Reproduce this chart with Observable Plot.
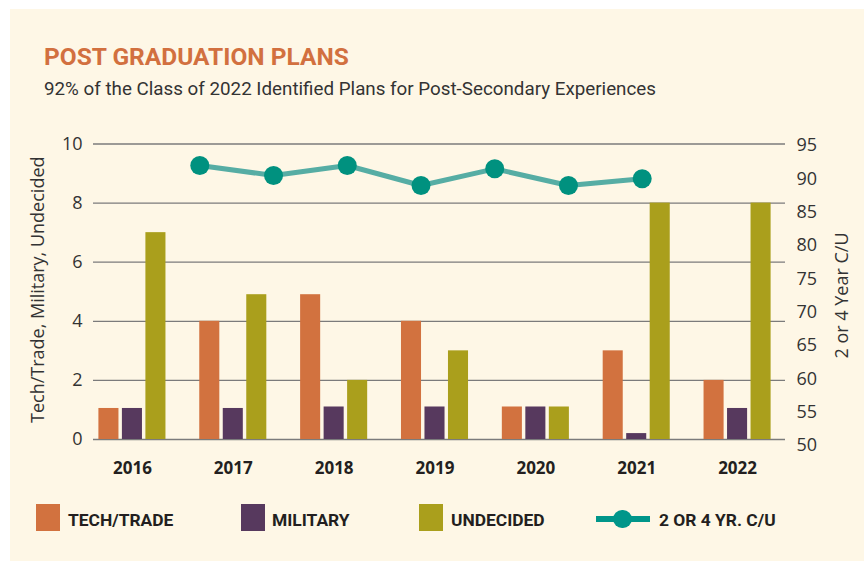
<!DOCTYPE html>
<html>
<head>
<meta charset="utf-8">
<script src="https://cdn.jsdelivr.net/npm/d3@7"></script>
<script src="https://cdn.jsdelivr.net/npm/@observablehq/plot@0.6"></script>
<style>
  html, body { margin: 0; padding: 0; background: #ffffff; }
  body { width: 865px; height: 561px; position: relative; overflow: hidden; }
  #bg { position: absolute; left: 10px; top: 9px; width: 854px; height: 552px; background: #FEF7E6; }
  .abs { position: absolute; white-space: nowrap; line-height: 1; }
  #title { left: 44px; top: 44.5px; font-family: Roboto, sans-serif; font-weight: 700; font-size: 24.5px; color: #D2703F; }
  #subtitle { left: 44px; top: 79.5px; font-family: Roboto, sans-serif; font-size: 18.8px; color: #333; }
  .plot { position: absolute; left: 0; top: 120px; }
  .sw { position: absolute; width: 24px; height: 27px; top: 504px; }
  .lt { position: absolute; top: 511.8px; font-family: Roboto, sans-serif; font-weight: 700; font-size: 17.4px; color: #231f20; line-height: 1; white-space: nowrap; }
</style>
</head>
<body>
<div id="bg"></div>
<div id="title" class="abs">POST GRADUATION PLANS</div>
<div id="subtitle" class="abs">92% of the Class of 2022 Identified Plans for Post-Secondary Experiences</div>
<div id="chart"></div>
<div id="legend"></div>
<script>
// ---- data ----
const years = ["2016", "2017", "2018", "2019", "2020", "2021", "2022"];
const techTrade = [1.05, 4, 4.9, 4, 1.1, 3, 2];
const military = [1.05, 1.05, 1.1, 1.1, 1.1, 0.2, 1.05];
const undecided = [7, 4.9, 2, 3, 1.1, 8, 8];
const college = [92, 90.5, 92, 89, 91.5, 89, 90];
const leftTicks = [0, 2, 4, 6, 8, 10];
const rightTicks = [50, 55, 60, 65, 70, 75, 80, 85, 90, 95];
const seriesNames = ["TECH/TRADE", "MILITARY", "UNDECIDED", "2 OR 4 YR. C/U"];
const leftLabel = "Tech/Trade, Military, Undecided";
const rightLabel = "2 or 4 Year C/U";

const TECH = "#D2723F", MIL = "#57395E", UND = "#AA9F1C", LINE = "#56ADA4", DOT = "#00917F";

const rows = years.map((y, i) => ({year: y, tech: techTrade[i], mil: military[i], und: undecided[i], col: college[i]}));

const common = {
  width: 865, height: 360,
  marginLeft: 93, marginRight: 80,
  style: {background: "transparent", fontFamily: "'Open Sans', sans-serif", color: "#333", overflow: "visible"}
};

const inset = 40.4;
const main = Plot.plot({
  ...common,
  marginTop: 23.5, marginBottom: 41,
  x: {type: "band", domain: years, range: [81.5, 787.5], padding: 0, round: false, axis: null},
  y: {domain: [0, 10], axis: null},
  marks: [
    Plot.ruleY(leftTicks, {stroke: "#7b7b7b", strokeWidth: 1.3}),
    Plot.barY(rows, {x: "year", y: "tech", fill: TECH, dx: -23.5, insetLeft: inset, insetRight: inset}),
    Plot.barY(rows, {x: "year", y: "mil", fill: MIL, dx: 0, insetLeft: inset, insetRight: inset}),
    Plot.barY(rows, {x: "year", y: "und", fill: UND, dx: 23.5, insetLeft: inset, insetRight: inset}),
    Plot.axisY({ticks: leftTicks, tickSize: 0, tickPadding: 11, fontSize: 18, label: null, fill: "#333"}),
    Plot.axisX({tickSize: 0, tickPadding: 22, fontSize: 17, fontWeight: "bold", label: null, fill: "#231f20"}),
    Plot.text([leftLabel], {frameAnchor: "left", textAnchor: "middle", rotate: -90, dx: -55, dy: -2, fontSize: 18, fill: "#333"})
  ]
});
main.classList.add("plot");

const overlay = Plot.plot({
  ...common,
  marginTop: 25, marginBottom: 35,
  x: {type: "point", domain: years, range: [199.3, 641.7], padding: 0, round: false, axis: null},
  y: {domain: [50, 95], axis: null},
  marks: [
    Plot.line(rows, {x: "year", y: "col", stroke: LINE, strokeWidth: 5}),
    Plot.dot(rows, {x: "year", y: "col", r: 9.5, fill: DOT}),
    Plot.axisY({anchor: "right", ticks: rightTicks, tickSize: 0, tickPadding: 11, fontSize: 18, label: null, fill: "#333"}),
    Plot.text([rightLabel], {frameAnchor: "right", textAnchor: "middle", rotate: -90, dx: 57, fontSize: 18, fill: "#333"})
  ]
});
overlay.classList.add("plot");

const chart = document.getElementById("chart");
chart.appendChild(main);
chart.appendChild(overlay);

// ---- legend ----
const legend = document.getElementById("legend");
const swX = [36, 241, 419];
const txtX = [68, 272, 451, 659];
[TECH, MIL, UND].forEach((c, i) => {
  const s = document.createElement("div");
  s.className = "sw"; s.style.left = swX[i] + "px"; s.style.background = c;
  legend.appendChild(s);
});
seriesNames.forEach((n, i) => {
  const t = document.createElement("div");
  t.className = "lt"; t.style.left = txtX[i] + "px"; t.textContent = n;
  legend.appendChild(t);
});
const ln = document.createElement("div");
Object.assign(ln.style, {position: "absolute", left: "596px", top: "516px", width: "54px", height: "6px", background: "#00968A"});
legend.appendChild(ln);
const cd = document.createElement("div");
Object.assign(cd.style, {position: "absolute", left: "613.4px", top: "509.7px", width: "18.6px", height: "18.6px", borderRadius: "50%", background: "#00968A"});
legend.appendChild(cd);
</script>
</body>
</html>
